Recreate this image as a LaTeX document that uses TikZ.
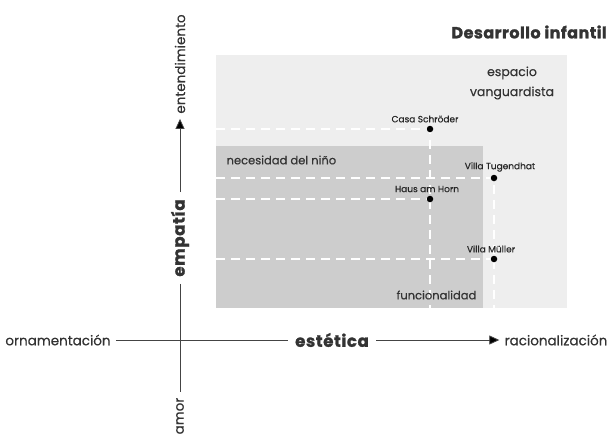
\documentclass[tikz,border=0pt]{standalone}
\usepackage{fontspec}
\setmainfont{Poppins}
\usetikzlibrary{arrows, arrows.meta}

\definecolor{lightbox}{HTML}{EEEEEE}
\definecolor{darkbox}{HTML}{CDCDCD}
\definecolor{inkgray}{HTML}{333333}
\definecolor{axisgray}{HTML}{444444}

\begin{document}
\begin{tikzpicture}[
            x = 1pt, y = -1pt, % pixel grid, y downwards
            > = {Triangle[length=10pt, width=9pt]}, % arrow head style
            semithick % line style
        ]

        \tikzstyle{axisline}=[
            draw = axisgray,
            thick
        ]
        \tikzstyle{pole}=[
            text = inkgray,
            font = \fontsize{13.5}{15}\selectfont\addfontfeature{FakeBold=0.4},
            inner sep = 5pt
        ]
        \tikzstyle{keyword}=[
            text = inkgray,
            font = \fontsize{16.5}{18}\selectfont\bfseries\addfontfeature{FakeBold=1.5, LetterSpace=4},
            inner sep = 7pt
        ]
        \tikzstyle{zone}=[
            text = inkgray,
            font = \fontsize{11.5}{13}\selectfont\addfontfeature{FakeBold=0.4},
            align = center
        ]
        \tikzstyle{house}=[
            fill = black,
            circle,
            inner sep = 0pt,
            minimum size = 6.5pt
        ]
        \tikzstyle{housename}=[
            text = black!85,
            font = \fontsize{9}{10}\selectfont\addfontfeature{FakeBold=0.4}
        ]
        \tikzstyle{guide}=[
            draw = white,
            line width = 2pt,
            dash pattern = on 9pt off 6pt
        ]

        \useasboundingbox (0,0) rectangle (607,437);

        % zones
        \fill[lightbox] (216,55) rectangle (567,308);
        \fill[darkbox] (216,146) rectangle (483,308);

        % dashed guides
        \coordinate (casaP) at (430,129);
        \coordinate (tugendhatP) at (494,178);
        \coordinate (hornP) at (430,199);
        \coordinate (muellerP) at (494,259);
        \coordinate (casaL) at (216,129);
        \coordinate (casaB) at (430,308);
        \coordinate (tugendhatL) at (216,178);
        \coordinate (tugendhatB) at (494,308);
        \coordinate (hornL) at (216,199);
        \coordinate (muellerL) at (216,259);

        \draw[guide] (casaL) -- (casaP) -- (casaB);
        \draw[guide] (tugendhatL) -- (tugendhatP) -- (tugendhatB);
        \draw[guide] (hornL) -- (hornP);
        \draw[guide] (muellerL) -- (muellerP);

        % houses
        \node (casa) [house] at (casaP) {};
        \node (tugendhat) [house] at (tugendhatP) {};
        \node (horn) [house] at (hornP) {};
        \node (mueller) [house] at (muellerP) {};

        \node (casaN) [housename] at (425,119) {Casa Schröder};
        \node (tugendhatN) [housename] at (500,167) {Villa Tugendhat};
        \node (hornN) [housename] at (427,189) {Haus am Horn};
        \node (muellerN) [housename] at (491,249) {Villa Müller};

        \node (vanguard) [zone, font = \fontsize{12.5}{20}\selectfont\addfontfeature{FakeBold=0.4}] at (512,83) {espacio\\vanguardista};
        \node (need) [zone, anchor=west] at (223,160) {necesidad del niño};
        \node (func) [zone, anchor=east] at (480,295) {funcionalidad};

        \node (title) [text = inkgray,
            font = \fontsize{16}{17}\selectfont\bfseries\addfontfeature{FakeBold=1.5, LetterSpace=3},
            anchor = east, inner sep = 0pt] at (607,32) {Desarrollo infantil};

        % axes
        \node (entend) [pole, rotate=90] at (180,64) {entendimiento};
        \node (empatia) [keyword, rotate=90] at (180,238) {empatía};
        \node (amor) [pole, rotate=90] at (180,416) {amor};
        \node (ornam) [pole] at (58,340) {ornamentación};
        \node (estetica) [keyword] at (332,340) {estética};
        \node (racional) [pole] at (556,340) {racionalización};

        \path[axisline, ->] (empatia) edge (entend);
        \path[axisline] (empatia) edge (amor);
        \path[axisline] (ornam) edge (estetica);
        \path[axisline, ->] (estetica) edge (racional);

    \end{tikzpicture}
\end{document}
